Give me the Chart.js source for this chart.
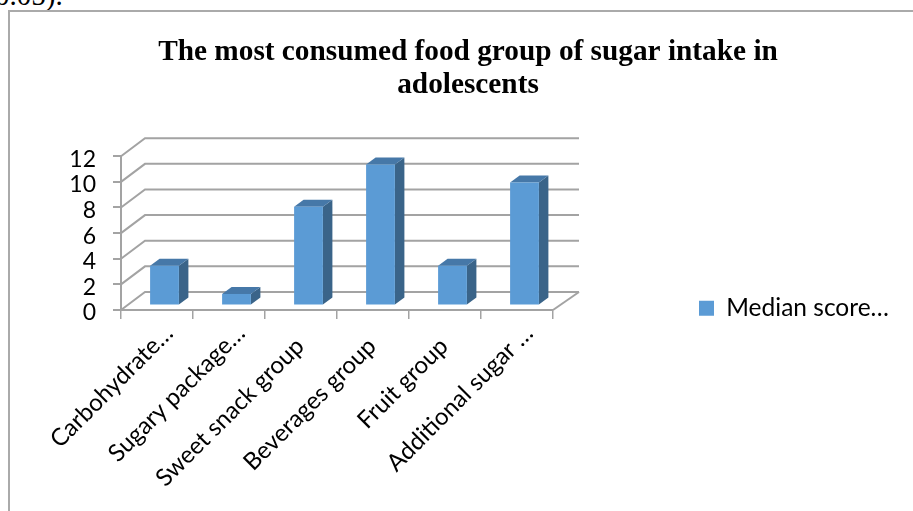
<!DOCTYPE html>
<html>
<head>
<meta charset="utf-8">
<style>
html,body{margin:0;padding:0;background:#fff;width:913px;height:511px;overflow:hidden}
#c{position:absolute;left:0;top:0}
#frame{position:absolute;left:8px;top:10px;right:0;bottom:0;border-left:2px solid #aaa;border-top:2px solid #aaa}
#above{position:absolute;left:-5px;top:-21px;font:29px "Liberation Serif",serif;color:#000;white-space:nowrap}
</style>
<script src="https://cdn.jsdelivr.net/npm/chart.js@4"></script>
</head>
<body>
<div id="above">0.05).</div>
<div id="frame"></div>
<canvas id="c" width="913" height="511"></canvas>
<script>
const titleLines = ["The most consumed food group of sugar intake in", "adolescents"];
const categories = ["Carbohydrate…", "Sugary package…", "Sweet snack group", "Beverages group", "Fruit group", "Additional sugar …"];
const seriesName = "Median score…";
const medianScores = [3.1, 0.9, 7.7, 11, 3.1, 9.6];
const yTicks = [0, 2, 4, 6, 8, 10, 12];

const GRID = "#a3a3a3", FACE = "#5b9bd5", TOP = "#4678a8", SIDE = "#3a6489";
const WALL = {dx: 24, dy: -18};
const BAR_SHIFT = {dx: 7.5, dy: -4.5};
const BAR_DEPTH = {dx: 9.5, dy: -7};

const threeD = {
  id: "threeD",
  afterLayout(chart) {
    const t = chart.titleBlock;
    t.left = 18; t.right = 918;
    const l = chart.legend;
    l.left = 691; l.right = 913; l.top = 288; l.bottom = 322;
  },
  beforeDatasetsDraw(chart) {
    const ctx = chart.ctx, a = chart.chartArea, y = chart.scales.y;
    ctx.save();
    ctx.strokeStyle = GRID; ctx.lineWidth = 2;
    yTicks.forEach(v => {
      const py = y.getPixelForValue(v);
      ctx.beginPath();
      ctx.moveTo(a.left, py);
      ctx.lineTo(a.left + WALL.dx, py + WALL.dy);
      ctx.lineTo(a.right + WALL.dx + 2, py + WALL.dy);
      ctx.stroke();
    });
    const p0 = y.getPixelForValue(0);
    ctx.beginPath();
    ctx.moveTo(a.right, p0);
    ctx.lineTo(a.right + WALL.dx + 2, p0 + WALL.dy);
    ctx.stroke();
    ctx.restore();

    ctx.save();
    ctx.translate(BAR_SHIFT.dx, BAR_SHIFT.dy);
    chart.getDatasetMeta(0).data.forEach(b => {
      const L = b.x - b.width / 2, R = b.x + b.width / 2, T = b.y, B = b.base;
      ctx.fillStyle = SIDE;
      ctx.beginPath();
      ctx.moveTo(R, T); ctx.lineTo(R + BAR_DEPTH.dx, T + BAR_DEPTH.dy);
      ctx.lineTo(R + BAR_DEPTH.dx, B + BAR_DEPTH.dy); ctx.lineTo(R, B);
      ctx.closePath(); ctx.fill();
      ctx.fillStyle = TOP;
      ctx.beginPath();
      ctx.moveTo(L, T); ctx.lineTo(L + BAR_DEPTH.dx, T + BAR_DEPTH.dy);
      ctx.lineTo(R + BAR_DEPTH.dx, T + BAR_DEPTH.dy); ctx.lineTo(R, T);
      ctx.closePath(); ctx.fill();
    });
  },
  afterDatasetsDraw(chart) { chart.ctx.restore(); }
};

new Chart(document.getElementById("c"), {
  type: "bar",
  plugins: [threeD],
  data: {
    labels: categories,
    datasets: [{
      label: seriesName,
      data: medianScores,
      backgroundColor: FACE,
      borderWidth: 0,
      barPercentage: 0.4,
      categoryPercentage: 1,
      clip: false
    }]
  },
  options: {
    responsive: false,
    animation: false,
    devicePixelRatio: 1,
    layout: {padding: {left: 0, right: 360, top: 0, bottom: 0}},
    plugins: {
      tooltip: {enabled: false},
      title: {
        display: true,
        text: titleLines,
        color: "#000",
        font: {family: "Liberation Serif", size: 29.3, weight: "bold", lineHeight: 1.13},
        padding: {top: 36, bottom: 54}
      },
      legend: {
        position: "chartArea",
        align: "start",
        labels: {
          boxWidth: 15, boxHeight: 15, padding: 8, color: "#000",
          font: {family: "Lato", size: 24.5}
        }
      }
    },
    scales: {
      x: {
        afterFit(s) { s.height = 201; },
        grid: {drawOnChartArea: false, drawTicks: true, tickLength: 9, color: GRID, lineWidth: 1.5},
        border: {display: true, color: GRID, width: 2},
        ticks: {
          color: "#000", autoSkip: false, minRotation: 45, maxRotation: 45,
          padding: 0, labelOffset: 12,
          font: {family: "Lato", size: 24},
          callback(v) {
            const s = this.getLabelForValue(v);
            return s.endsWith("…") ? s : s + "   ";
          }
        }
      },
      y: {
        min: 0, max: 12,
        afterFit(s) { s.width = 121; },
        grid: {drawOnChartArea: false, drawTicks: true, tickLength: 8, color: GRID, lineWidth: 2},
        border: {display: true, color: GRID, width: 2},
        ticks: {
          color: "#000", stepSize: 2, padding: 17, autoSkip: false, labelOffset: 3,
          font: {family: "Lato", size: 23}
        }
      }
    }
  }
});
</script>
</body>
</html>
